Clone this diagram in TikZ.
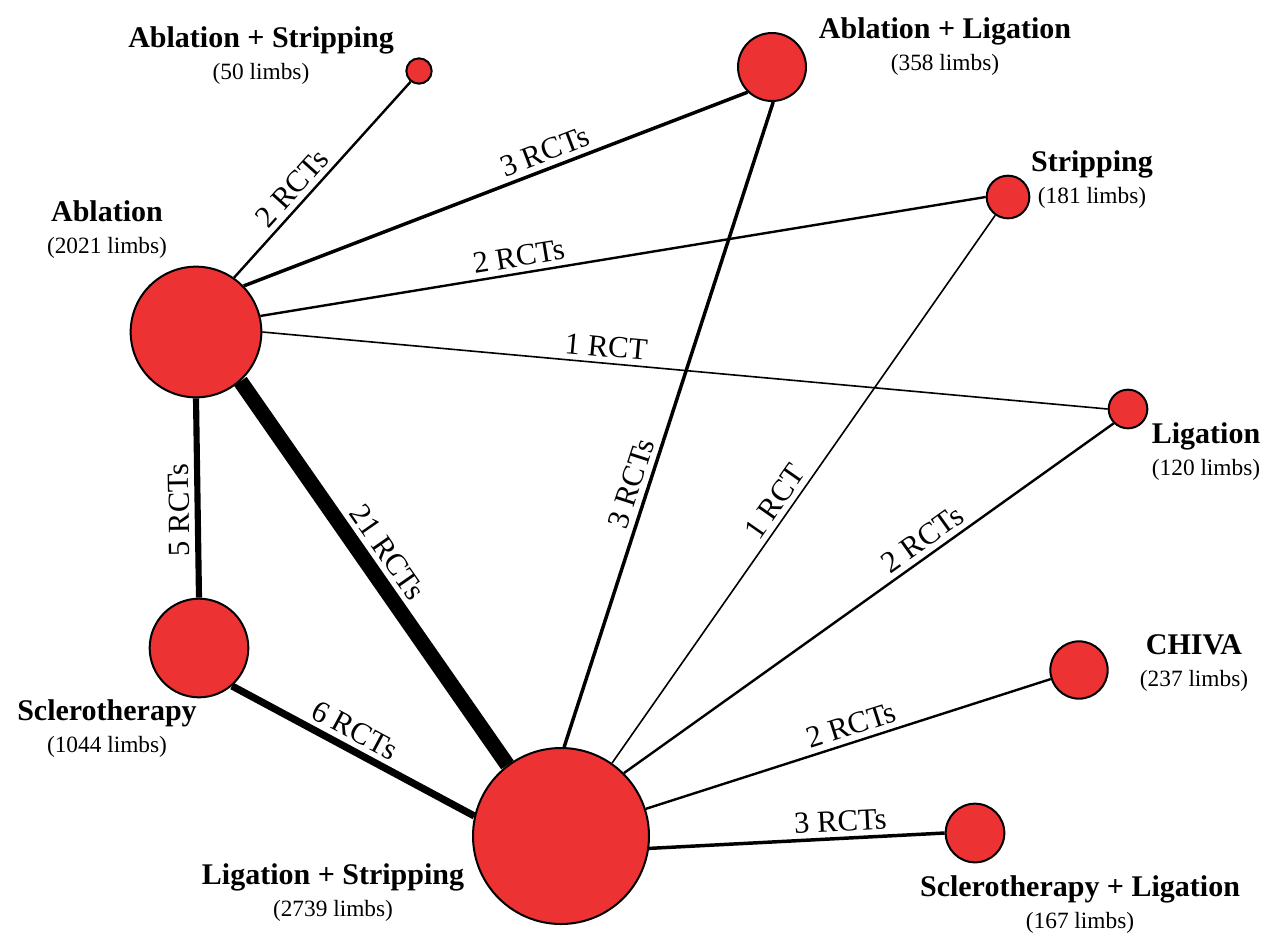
\documentclass[tikz,border=0pt]{standalone}
\usepackage{fontspec}
\setmainfont{Liberation Serif}
\usetikzlibrary{backgrounds}

\definecolor{nodered}{RGB}{236,50,50}

\tikzset{every picture/.style={line width=0.75pt}}
\tikzset{
  bubble/.style={circle, draw=black, line width=1.5pt, fill=nodered, inner sep=0pt},
  tag/.style={align=center, inner sep=0pt, font=\fontsize{17.5}{24}\selectfont},
  elab/.style={sloped, above, inner sep=4pt, font=\fontsize{23}{26}\selectfont},
  rct1/.style={line width=1.2pt},
  rct2/.style={line width=1.8pt},
  rct3/.style={line width=2.6pt},
  rct5/.style={line width=4.6pt},
  rct6/.style={line width=5.4pt},
  rct21/.style={line width=11.5pt}
}

\begin{document}
\begin{tikzpicture}[x=0.75pt,y=0.75pt]
\useasboundingbox (0,0) rectangle (1266,-936);

%Circles
\node (ablation) at (196,-332) [bubble, minimum size=98pt] {};
\node (ablstrip) at (419,-71) [bubble, minimum size=19pt] {};
\node (abllig) at (772,-67) [bubble, minimum size=51pt] {};
\node (stripping) at (1008,-197) [bubble, minimum size=32pt] {};
\node (ligation) at (1128,-409) [bubble, minimum size=29pt] {};
\node (sclero) at (199,-648) [bubble, minimum size=74pt] {};
\node (ligstrip) at (561,-836) [bubble, minimum size=132pt] {};
\node (chiva) at (1079,-670) [bubble, minimum size=43pt] {};
\node (sclerolig) at (975,-833) [bubble, minimum size=44pt] {};

\begin{pgfonlayer}{background}
%Straight Lines
\draw [rct2] (ablation.55) -- (ablstrip.232) node [elab, pos=0.4] {2 RCTs};
%Straight Lines
\draw [rct3] (ablation.44) -- (abllig.226) node [elab, pos=0.61] {3 RCTs};
%Straight Lines
\draw [rct2] (ablation.14) -- (stripping.180) node [elab, pos=0.36] {2 RCTs};
%Straight Lines
\draw [rct1] (ablation.0) -- (ligation.180) node [elab, pos=0.405] {1 RCT};
%Straight Lines
\draw [rct5] (sclero.90) -- (ablation.-90) node [elab, allow upside down, pos=0.44] {5 RCTs};
%Straight Lines
\draw [rct21] (ablation.-48) -- (ligstrip.127) node [elab, pos=0.48] {21 RCTs};
%Straight Lines
\draw [rct6] (sclero.-49) -- (ligstrip.167) node [elab, pos=0.47] {6 RCTs};
%Straight Lines
\draw [rct3] (ligstrip.88) -- (abllig.-88) node [elab, pos=0.4] {3 RCTs};
%Straight Lines
\draw [rct1] (ligstrip) -- (stripping) node [elab, pos=0.46] {1 RCT};
%Straight Lines
\draw [rct2] (ligstrip.45) -- (ligation.225) node [elab, pos=0.63] {2 RCTs};
%Straight Lines
\draw [rct2] (ligstrip) -- (chiva) node [elab, pos=0.52] {2 RCTs};
%Straight Lines
\draw [rct3] (ligstrip.-8) -- (sclerolig.180) node [elab, pos=0.65] {3 RCTs};
\end{pgfonlayer}

% Text Node
\node (ablstripLab) at (261,-56) [tag] {{\bfseries\fontsize{22.5}{24}\selectfont Ablation + Stripping}\\(50 limbs)};
% Text Node
\node (ablligLab) at (945,-47) [tag] {{\bfseries\fontsize{22.5}{24}\selectfont Ablation + Ligation}\\(358 limbs)};
% Text Node
\node (strippingLab) at (1092,-180) [tag] {{\bfseries\fontsize{22.5}{24}\selectfont Stripping}\\(181 limbs)};
% Text Node
\node (ablationLab) at (107,-230) [tag] {{\bfseries\fontsize{22.5}{24}\selectfont Ablation}\\(2021 limbs)};
% Text Node
\node (ligationLab) at (1206,-452) [tag] {{\bfseries\fontsize{22.5}{24}\selectfont Ligation}\\(120 limbs)};
% Text Node
\node (chivaLab) at (1194,-663) [tag] {{\bfseries\fontsize{22.5}{24}\selectfont CHIVA}\\(237 limbs)};
% Text Node
\node (scleroLab) at (107,-729) [tag] {{\bfseries\fontsize{22.5}{24}\selectfont Sclerotherapy}\\(1044 limbs)};
% Text Node
\node (ligstripLab) at (333,-893) [tag] {{\bfseries\fontsize{22.5}{24}\selectfont Ligation + Stripping}\\(2739 limbs)};
% Text Node
\node (scleroligLab) at (1080,-905) [tag] {{\bfseries\fontsize{22.5}{24}\selectfont Sclerotherapy + Ligation}\\(167 limbs)};

\end{tikzpicture}
\end{document}
